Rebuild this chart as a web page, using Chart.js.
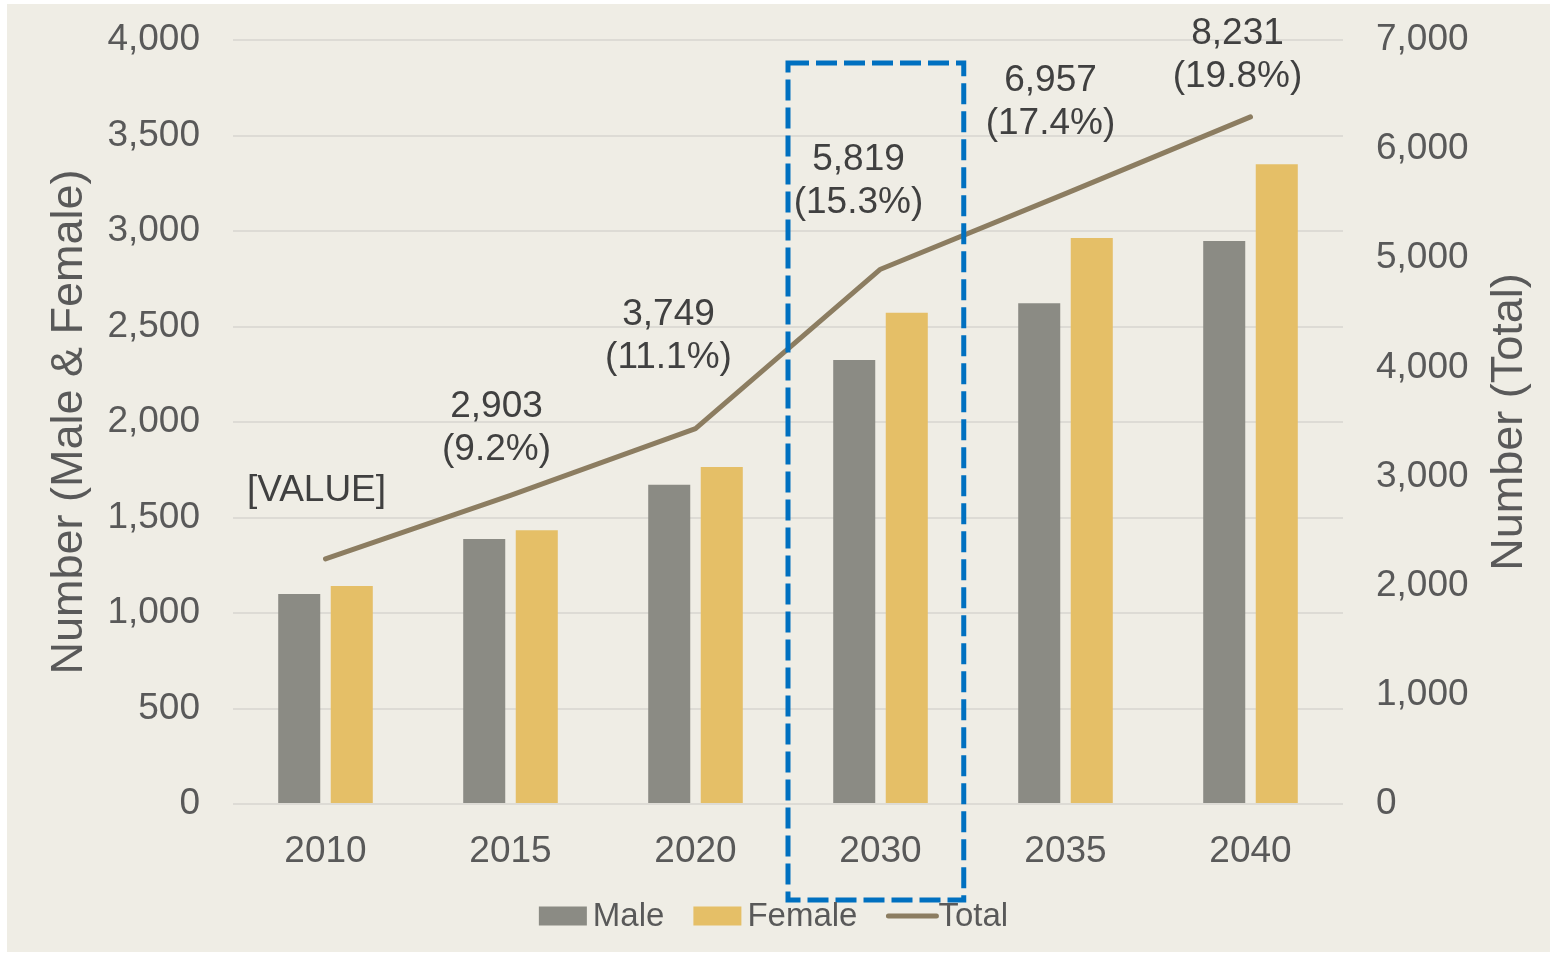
<!DOCTYPE html>
<html>
<head>
<meta charset="utf-8">
<script src="https://cdn.jsdelivr.net/npm/chart.js@4.4.1/dist/chart.umd.min.js"></script>
<style>
  html, body { margin: 0; padding: 0; background: #ffffff; }
  #wrap { position: absolute; left: 7px; top: 4px; width: 1543px; height: 948px; background: #EFEDE5; }
</style>
</head>
<body>
<div id="wrap"><canvas id="myChart"></canvas></div>
<script>
// values
const years = ['2010', '2015', '2020', '2030', '2035', '2040'];
const male = [1100, 1388, 1672, 2325, 2622, 2948];
const female = [1142, 1433, 1765, 2572, 2963, 3350];
const total = [2245, 2828, 3440, 4900, 5592, 6296];

// text of the labels on the Total line (as shown in the picture)
const totalLabels = ['[VALUE]', '2,903', '3,749', '5,819', '6,957', '8,231'];
const shareLabels = ['', '(9.2%)', '(11.1%)', '(15.3%)', '(17.4%)', '(19.8%)'];

const highlightYear = '2030';
const rightTitle = 'Number (Total)';

const FONT = '"Liberation Sans", Arial, sans-serif';
const textGrey = '#595959';

// labels above the total line; they were nudged by hand in the original,
// so each one gets its own shift from its point [dx, dy]
const labelNudge = [[-9, -68], [-14, -46], [-27, -71], [-22, -66], [-15, -70], [-13, -40]];

const totalLabelPlugin = {
  id: 'totalLabels',
  afterDatasetsDraw(chart) {
    const ctx = chart.ctx;
    const meta = chart.getDatasetMeta(2);
    ctx.save();
    ctx.font = '37px ' + FONT;
    ctx.fillStyle = '#404040';
    ctx.textAlign = 'center';
    ctx.textBaseline = 'middle';
    meta.data.forEach((pt, i) => {
      const lines = shareLabels[i] ? [totalLabels[i], shareLabels[i]] : [totalLabels[i]];
      const [dx, dy] = labelNudge[i];
      let y = pt.y + dy - (lines.length - 1) * 43;
      lines.forEach(t => {
        ctx.fillText(t, pt.x + dx, y);
        y += 43;
      });
    });
    ctx.restore();
  }
};

// blue dashed box around one year, and the right axis title (reads bottom to top)
const highlightPlugin = {
  id: 'highlight',
  afterDraw(chart) {
    const ctx = chart.ctx;
    const xs = chart.scales.x;
    const area = chart.chartArea;
    const i = years.indexOf(highlightYear);
    const step = xs.getPixelForValue(1) - xs.getPixelForValue(0);
    const left = xs.getPixelForValue(i) - step / 2;
    const right = left + step * 0.95;
    const top = area.top + 23;
    const bottom = area.bottom + 96;
    ctx.save();
    ctx.strokeStyle = '#0070C0';
    ctx.lineWidth = 5;
    ctx.setLineDash([21, 7]);
    ctx.strokeRect(left, top, right - left, bottom - top);
    ctx.restore();

    ctx.save();
    ctx.translate(chart.width - 40, (area.top + area.bottom) / 2);
    ctx.rotate(-Math.PI / 2);
    ctx.font = '45px ' + FONT;
    ctx.fillStyle = textGrey;
    ctx.textAlign = 'center';
    ctx.textBaseline = 'middle';
    ctx.fillText(rightTitle, 0, 0);
    ctx.restore();
  }
};

// legend at the bottom
const legendPlugin = {
  id: 'bottomLegend',
  afterDraw(chart) {
    const ctx = chart.ctx;
    const y = chart.height - 36;
    ctx.save();
    ctx.font = '33px ' + FONT;
    ctx.textBaseline = 'middle';
    ctx.textAlign = 'left';
    const items = chart.data.datasets.map(ds => ({
      label: ds.label,
      line: ds.type === 'line',
      color: ds.type === 'line' ? ds.borderColor : ds.backgroundColor
    }));
    const gap = 29;
    const widths = items.map(it => 48 + (it.line ? 4 : 6) + ctx.measureText(it.label).width);
    const full = widths.reduce((a, b) => a + b, 0) + gap * (items.length - 1);
    let x = chart.width / 2 - 5 - full / 2;
    items.forEach((it, k) => {
      if (it.line) {
        ctx.strokeStyle = it.color;
        ctx.lineWidth = 5;
        ctx.lineCap = 'round';
        ctx.beginPath();
        ctx.moveTo(x + 2, y);
        ctx.lineTo(x + 50, y);
        ctx.stroke();
        ctx.fillStyle = textGrey;
        ctx.fillText(it.label, x + 52, y + 1);
      } else {
        ctx.fillStyle = it.color;
        ctx.fillRect(x, y - 9.5, 48, 19);
        ctx.fillStyle = textGrey;
        ctx.fillText(it.label, x + 54, y + 1);
      }
      x += widths[k] + gap;
    });
    ctx.restore();
  }
};

// fixed axis sizes so the plot area sits where it does in the picture
function fixWidth(w) {
  return s => { s.width = w; s.paddingTop = 0; s.paddingBottom = 0; };
}

function createChart() {
  const ctx = document.getElementById('myChart');
  new Chart(ctx, {
    type: 'bar',
    data: {
      labels: years,
      datasets: [
        {
          label: 'Male',
          data: male,
          backgroundColor: '#8B8B84',
          yAxisID: 'y',
          categoryPercentage: 0.568,
          barPercentage: 0.8,
          order: 2
        },
        {
          label: 'Female',
          data: female,
          backgroundColor: '#E5BF67',
          yAxisID: 'y',
          categoryPercentage: 0.568,
          barPercentage: 0.8,
          order: 2
        },
        {
          type: 'line',
          label: 'Total',
          data: total,
          borderColor: '#8C7D61',
          backgroundColor: '#8C7D61',
          borderWidth: 5,
          pointRadius: 0,
          tension: 0,
          borderCapStyle: 'round',
          borderJoinStyle: 'round',
          yAxisID: 'y1',
          order: 1
        }
      ]
    },
    options: {
      responsive: true,
      maintainAspectRatio: false,
      animation: false,
      layout: { padding: { top: 36, bottom: 80, left: 0, right: 0 } },
      scales: {
        x: {
          grid: { display: false, drawTicks: false },
          border: { display: false },
          ticks: { color: textGrey, padding: 26, font: { family: FONT, size: 37 } },
          afterFit: s => { s.height = 68; s.paddingLeft = 0; s.paddingRight = 0; }
        },
        y: {
          position: 'left',
          min: 0,
          max: 4000,
          ticks: { stepSize: 500, color: textGrey, padding: 33, font: { family: FONT, size: 37 } },
          grid: { color: '#DDDBD5', lineWidth: 2, drawTicks: false },
          border: { display: false },
          title: {
            display: true,
            text: 'Number (Male & Female)',
            color: textGrey,
            font: { family: FONT, size: 45, lineHeight: 1.2 },
            padding: { top: 36, bottom: 0 }
          },
          afterFit: fixWidth(226)
        },
        y1: {
          position: 'right',
          min: 0,
          max: 7000,
          ticks: { stepSize: 1000, color: textGrey, padding: 33, font: { family: FONT, size: 37 } },
          grid: { drawOnChartArea: false, drawTicks: false },
          border: { display: false },
          afterFit: fixWidth(207)
        }
      },
      plugins: {
        legend: { display: false },
        tooltip: { enabled: false }
      }
    },
    plugins: [totalLabelPlugin, highlightPlugin, legendPlugin]
  });
}

createChart();
</script>
</body>
</html>
